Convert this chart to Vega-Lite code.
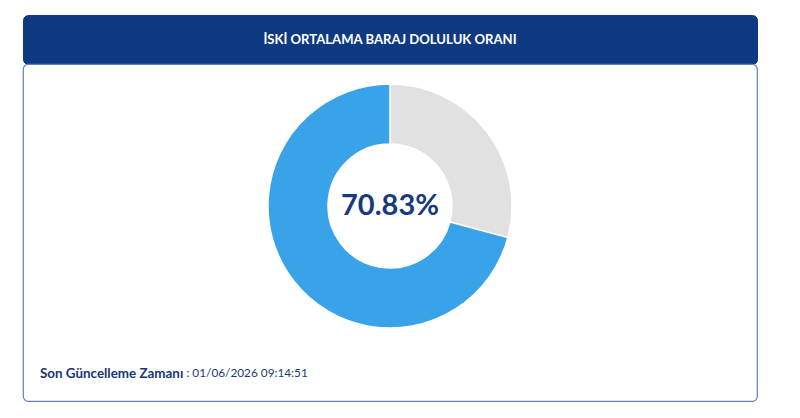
{
  "$schema": "https://vega.github.io/schema/vega-lite/v6.json",
  "padding": {"left": 22, "top": 14, "right": 0, "bottom": 0},
  "background": "white",
  "bounds": "flush",
  "title": {
    "text": ": 01/06/2026 09:14:51",
    "orient": "bottom",
    "anchor": "start",
    "offset": -34,
    "dx": 164,
    "font": "Lato",
    "fontSize": 11.8,
    "fontWeight": "normal",
    "color": "#1d3a74"
  },
  "spacing": 0,
  "vconcat": [
    {
      "width": 734,
      "height": 49,
      "view": {"fill": "#0f3a82", "stroke": "#0f3a82", "cornerRadius": 5},
      "data": {"values": [{"baslik": "İSKİ ORTALAMA BARAJ DOLULUK ORANI"}]},
      "mark": {
        "type": "text",
        "font": "Lato",
        "fontSize": 13.1,
        "fontWeight": "bold",
        "color": "white"
      },
      "encoding": {"text": {"field": "baslik"}}
    },
    {
      "width": 734,
      "height": 337,
      "view": {"fill": "white", "stroke": "#5f82bf", "strokeWidth": 1.2, "cornerRadius": 5},
      "title": {
        "text": "Son Güncelleme Zamanı",
        "orient": "bottom",
        "anchor": "start",
        "offset": -34,
        "dx": 17,
        "font": "Lato",
        "fontSize": 13.4,
        "fontWeight": "bold",
        "color": "#16367a"
      },
      "data": {
        "values": [
          {"durum": "Boş", "oran": 29.17},
          {"durum": "Dolu", "oran": 70.83}
        ]
      },
      "layer": [
        {
          "mark": {
            "type": "arc",
            "radius": 122,
            "innerRadius": 62,
            "stroke": "white",
            "strokeWidth": 1.5,
            "yOffset": -26.5
          },
          "encoding": {
            "theta": {"field": "oran", "type": "quantitative", "stack": true},
            "color": {
              "field": "durum",
              "type": "nominal",
              "scale": {"domain": ["Boş", "Dolu"], "range": ["#e1e1e1", "#39a3ea"]},
              "legend": null
            },
            "order": {"field": "durum", "sort": "ascending"}
          }
        },
        {
          "transform": [
            {"filter": "datum.durum == 'Dolu'"},
            {"calculate": "format(datum.oran, '.2f') + '%'", "as": "etiket"}
          ],
          "mark": {
            "type": "text",
            "font": "Lato",
            "fontSize": 29,
            "fontWeight": "bold",
            "color": "#173a7c",
            "yOffset": -26.5
          },
          "encoding": {
            "text": {"field": "etiket", "type": "nominal"}
          }
        }
      ]
    }
  ]
}
